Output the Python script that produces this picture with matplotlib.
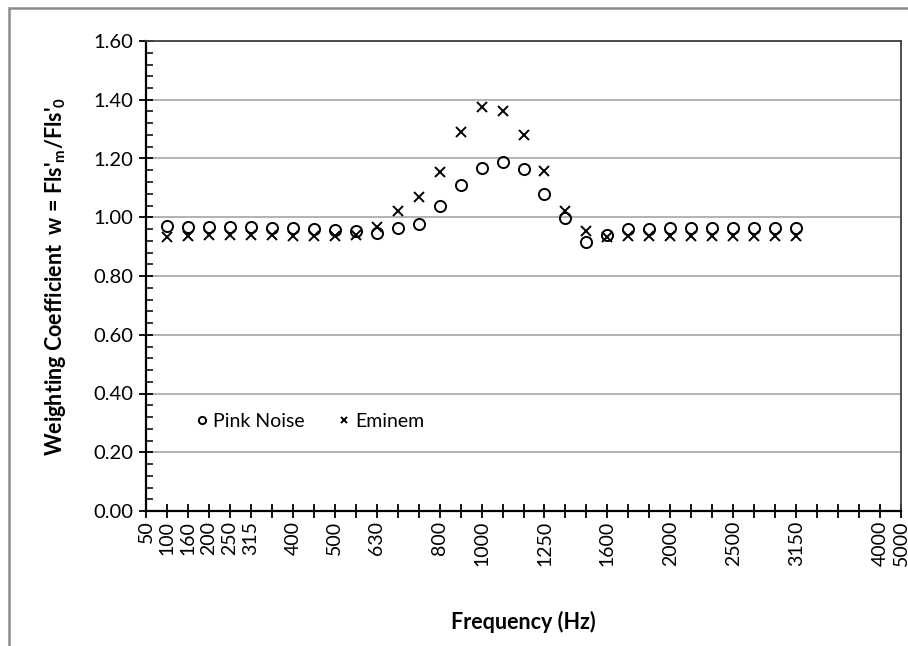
import matplotlib

matplotlib.use("Agg")
import matplotlib.pyplot as plt
from matplotlib.patches import Rectangle
from matplotlib.ticker import MultipleLocator

plt.rcParams["font.family"] = ["Lato", "DejaVu Sans"]
plt.rcParams["mathtext.fontset"] = "custom"
plt.rcParams["mathtext.rm"] = "Lato:bold"
plt.rcParams["mathtext.bf"] = "Lato:bold"

# 1/6-octave band positions 100 Hz .. 3150 Hz, axis slot index
band_pos = list(range(1, 32))
pink_noise = [0.969, 0.966, 0.966, 0.966, 0.967, 0.962, 0.962, 0.960, 0.958, 0.953,
              0.945, 0.962, 0.977, 1.037, 1.110, 1.168, 1.187, 1.165, 1.080, 0.997,
              0.915, 0.941, 0.960, 0.960, 0.963, 0.963, 0.963, 0.963, 0.962, 0.963,
              0.963]
eminem = [0.934, 0.937, 0.940, 0.940, 0.940, 0.940, 0.937, 0.937, 0.937, 0.938,
          0.966, 1.022, 1.068, 1.153, 1.289, 1.375, 1.360, 1.280, 1.157, 1.022,
          0.954, 0.932, 0.935, 0.935, 0.937, 0.937, 0.937, 0.937, 0.937, 0.937,
          0.935]

tick_pos = [0, 1, 2, 3, 4, 5, 7, 9, 11, 14, 16, 19, 22, 25, 28, 31, 35, 36]
tick_labels = ["50", "100", "160", "200", "250", "315", "400", "500", "630",
               "800", "1000", "1250", "1600", "2000", "2500", "3150", "4000", "5000"]
n_slots = 36

W, H = 908, 646
fig = plt.figure(figsize=(W / 100, H / 100), dpi=100)
ax = fig.add_axes([146 / W, 1 - 511 / H, (901 - 146) / W, (511 - 41) / H])

ax.plot(band_pos, pink_noise, "o", ms=8, mfc="none", mec="black", mew=1.4,
        label="Pink Noise", zorder=3)
ax.plot(band_pos, eminem, "x", ms=7, mec="black", mew=1.4, label="Eminem", zorder=3)

ax.set_xlim(0, n_slots)
ax.set_ylim(0, 1.6)
ax.yaxis.set_major_locator(MultipleLocator(0.2))
ax.yaxis.set_minor_locator(MultipleLocator(0.04))
ax.yaxis.set_major_formatter(lambda v, _: f"{v:.2f}")
ax.grid(axis="y", color="#a6a6a6", lw=1.2)
ax.set_axisbelow(True)

labels = {p: l for p, l in zip(tick_pos, tick_labels)}
ax.set_xticks(range(n_slots + 1))
ax.set_xticklabels([labels.get(i, "") for i in range(n_slots + 1)], rotation=90)

ax.tick_params(axis="x", which="major", direction="inout", length=10, width=1.3,
               labelsize=14, pad=2, colors="black")
ax.tick_params(axis="y", which="major", direction="inout", length=10, width=1.3,
               labelsize=14.5, pad=4)
ax.tick_params(axis="y", which="minor", direction="in", length=5, width=1.1)
for side in ("left", "bottom"):
    ax.spines[side].set_color("black")
    ax.spines[side].set_linewidth(1.6)
for side in ("top", "right"):
    ax.spines[side].set_color("#404040")
    ax.spines[side].set_linewidth(1.3)

ax.set_ylabel(r"Weighting Coefficient  w = Fls'$_\mathrm{m}$/Fls'$_\mathrm{0}$",
              fontsize=15.5, fontweight="bold", labelpad=18)
ax.set_xlabel("Frequency (Hz)", fontsize=15.5, fontweight="bold", labelpad=32)

ax.legend(loc="center left", bbox_to_anchor=(0.035, 0.19), frameon=False, ncol=2,
          fontsize=14, handletextpad=0.0, columnspacing=1.4, markerscale=0.65,
          handlelength=1.2)

fig.patches.append(Rectangle((9 / W, -0.1), 1.2, 1.1 - 8 / H, transform=fig.transFigure,
                             fill=False, ec="#8c8c8c", lw=1.8))

fig.savefig("out.png", dpi=100)
